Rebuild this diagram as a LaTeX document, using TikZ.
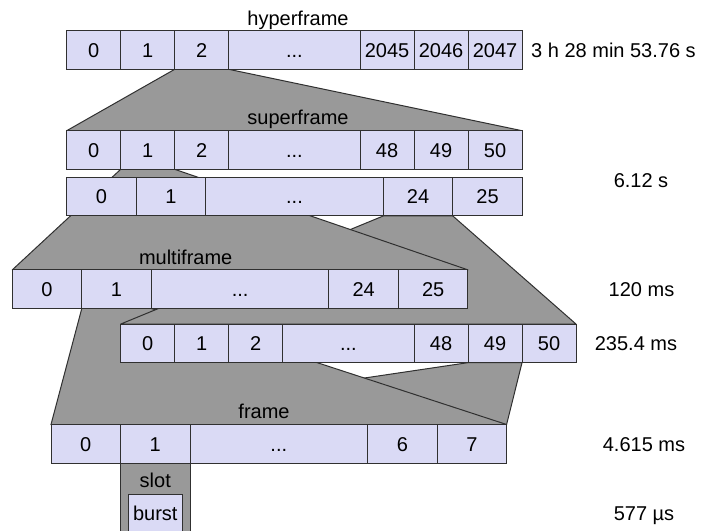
\documentclass[tikz,border=0pt]{standalone}
\usepackage{fontspec}
\setmainfont{Liberation Sans}
\pgfdeclarelayer{fans}
\pgfsetlayers{fans,main}
\definecolor{cellfill}{RGB}{218,218,245}
\definecolor{fangray}{RGB}{153,153,153}
\definecolor{edgegray}{RGB}{48,48,48}
\newcommand{\skipdots}{...}
\begin{document}
\begin{tikzpicture}[x=1pt,y=-1pt,font=\fontsize{20}{24}\selectfont,
 cellstyle/.style={draw=edgegray,fill=cellfill,line width=1pt,minimum height=38.6pt,
   inner sep=0pt,outer sep=0pt,text height=14.5pt,text depth=0pt,anchor=west},
 fanstyle/.style={draw=edgegray,fill=fangray,line width=1pt,line join=round},
 slotstyle/.style={draw=edgegray,fill=fangray,line width=1pt,inner sep=0pt,outer sep=0pt},
 labelstyle/.style={inner sep=0pt,anchor=base}]
\useasboundingbox (0,0) rectangle (703,530);
% rows of cells
\foreach \lab/\x/\w [count=\i from 0] in {0/66.7/54,1/120.7/54,2/174.7/54,\skipdots/228.7/131.3,2045/360/54,2046/414/54,2047/468/54}
  \node[cellstyle,minimum width=\w pt] (h\i) at (\x,50) {\lab};
\foreach \lab/\x/\w [count=\i from 0] in {0/66.7/54,1/120.7/54,2/174.7/54,\skipdots/228.7/131.3,48/360/54,49/414/54,50/468/54}
  \node[cellstyle,minimum width=\w pt] (s\i) at (\x,150) {\lab};
\foreach \lab/\x/\w [count=\i from 0] in {0/66.7/69.5,1/136.2/69.5,\skipdots/205.7/177.6,24/383.3/69.5,25/452.8/69.5}
  \node[cellstyle,minimum width=\w pt] (r\i) at (\x,196.65) {\lab};
\foreach \lab/\x/\w [count=\i from 0] in {0/12.3/69.5,1/81.8/69.5,\skipdots/151.3/177.6,24/328.9/69.5,25/398.4/69.5}
  \node[cellstyle,minimum width=\w pt] (m\i) at (\x,289.15) {\lab};
\foreach \lab/\x/\w [count=\i from 0] in {0/120.7/54,1/174.7/54,2/228.7/54,\skipdots/282.7/131.3,48/414/54,49/468/54,50/522/54}
  \node[cellstyle,minimum width=\w pt] (b\i) at (\x,343.35) {\lab};
\foreach \lab/\x/\w [count=\i from 0] in {0/51/69.5,1/120.5/69.5,\skipdots/190/177.6,6/367.6/69.5,7/437.1/69.5}
  \node[cellstyle,minimum width=\w pt] (f\i) at (\x,443.8) {\lab};
% slot and burst
\node[slotstyle,minimum width=69.5pt,minimum height=80pt,anchor=north] (slot) at (f1.south) {};
\node[cellstyle,anchor=north,minimum width=54pt,minimum height=60pt] (burst) at (155.25,494) {};
\node[labelstyle] (slotlab) at (155.25,487.3) {slot};
\node[labelstyle] (burstlab) at (155.25,520) {burst};
% row names
\node[labelstyle] (hyperlab) at (298,25) {hyperframe};
\node[labelstyle] (superlab) at (298,124) {superframe};
\node[labelstyle] (multilab) at (185.7,264) {multiframe};
\node[labelstyle] (framelab) at (264,418.3) {frame};
% durations
\node[labelstyle,anchor=base west] (thyper) at (531,57) {3 h 28 min 53.76 s};
\node[labelstyle] (tsuper) at (641,187) {6.12 s};
\node[labelstyle] (tmulti) at (641.5,296) {120 ms};
\node[labelstyle] (tmultib) at (636,350) {235.4 ms};
\node[labelstyle] (tframe) at (644,451) {4.615 ms};
\node[labelstyle] (tslot) at (644,520) {577 µs};
% fans from a cell to the row below
\begin{pgfonlayer}{fans}
\foreach \a/\b/\c in {h2/s0/s6,b5/f0/f4,m1/f0/f4,r3/b0/b6,s1/m0/m4}
  \draw[fanstyle] (\a.south west) -- (\b.north west) -- (\c.north east) -- (\a.south east) -- cycle;
\end{pgfonlayer}
\end{tikzpicture}
\end{document}
